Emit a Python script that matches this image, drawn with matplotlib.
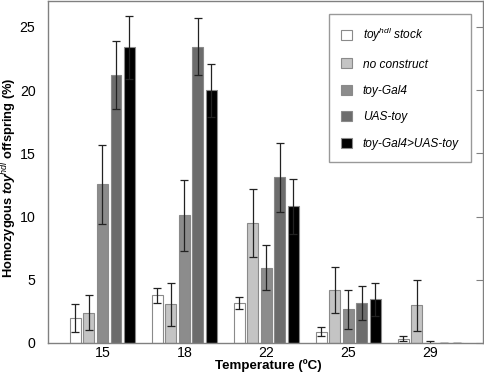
import numpy as np
import matplotlib
matplotlib.use('Agg')
import matplotlib.pyplot as plt

plt.rcParams['font.family'] = ['Liberation Sans', 'DejaVu Sans']
plt.rcParams['mathtext.fontset'] = 'custom'
plt.rcParams['mathtext.rm'] = 'Liberation Sans'
plt.rcParams['mathtext.it'] = 'Liberation Sans:italic'
plt.rcParams['mathtext.bf'] = 'Liberation Sans:bold:italic'

temps = ['15', '18', '22', '25', '29']
series = ['toy$^{\\mathit{hdl}}$ stock', 'no construct', 'toy-Gal4', 'UAS-toy', 'toy-Gal4>UAS-toy']
colors = ['#ffffff', '#c4c4c4', '#8c8c8c', '#6c6c6c', '#000000']

# mean values per series, one entry per temperature
stock = [1.95, 3.78, 3.18, 0.90, 0.34]
no_construct = [2.40, 3.05, 9.50, 4.18, 2.97]
toy_gal4 = [12.55, 10.10, 5.97, 2.66, 0.0]
uas_toy = [21.20, 23.45, 13.10, 3.13, 0.0]
gal4_uas = [23.40, 20.00, 10.80, 3.47, 0.0]

# error (half range)
stock_err = [1.10, 0.60, 0.48, 0.36, 0.18]
no_construct_err = [1.40, 1.70, 2.70, 1.82, 2.05]
toy_gal4_err = [3.15, 2.80, 1.80, 1.52, 0.12]
uas_toy_err = [2.70, 2.25, 2.75, 1.35, 0.0]
gal4_uas_err = [2.50, 2.10, 2.20, 1.30, 0.0]

values = [stock, no_construct, toy_gal4, uas_toy, gal4_uas]
errors = [stock_err, no_construct_err, toy_gal4_err, uas_toy_err, gal4_uas_err]

fig = plt.figure(figsize=(4.84, 3.75), dpi=100)
ax = fig.add_axes([48 / 484, 32 / 375, 435 / 484, 342 / 375])

x = np.arange(len(temps))
width = 0.131
pitch = 0.165
for i in range(5):
    ax.bar(x + (i - 2) * pitch, values[i], width, color=colors[i],
           edgecolor='#8a8a8a', linewidth=0.8, label=series[i],
           yerr=errors[i], capsize=3.2,
           error_kw=dict(ecolor='#222222', elinewidth=0.9, capthick=0.9))

ax.set_xlim(-0.663, 4.643)
ax.set_ylim(0, 27.05)
ax.set_xticks(x)
ax.set_xticklabels(temps)
ax.set_yticks([0, 5, 10, 15, 20, 25])
ax.tick_params(axis='x', length=0, labelsize=10.2, pad=2)
ax.tick_params(axis='y', left=False, right=True, direction='in', length=5,
               color='#808080', labelsize=10.2, pad=9)
for s in ax.spines.values():
    s.set_color('#808080')
    s.set_linewidth(1.0)

ax.set_xlabel('Temperature (ºC)', fontsize=9.6, fontweight='bold')
ax.xaxis.set_label_coords(0.506, -0.047)
ax.set_ylabel('Homozygous $\\mathbf{toy}^{\\mathit{hdl}}$ offspring (%)',
              fontsize=9.3, fontweight='bold')
ax.yaxis.set_label_coords(-0.066, 0.484)

leg = ax.legend(loc='upper right', bbox_to_anchor=(0.972, 0.962),
                prop={'style': 'italic', 'size': 8.6}, frameon=True, fancybox=False,
                handlelength=0.9, handleheight=0.9, labelspacing=1.2,
                borderpad=1.0, handletextpad=0.9, borderaxespad=0)
leg.get_frame().set_edgecolor('#808080')
leg.get_frame().set_linewidth(1.0)

fig.savefig('out.png', dpi=100)
